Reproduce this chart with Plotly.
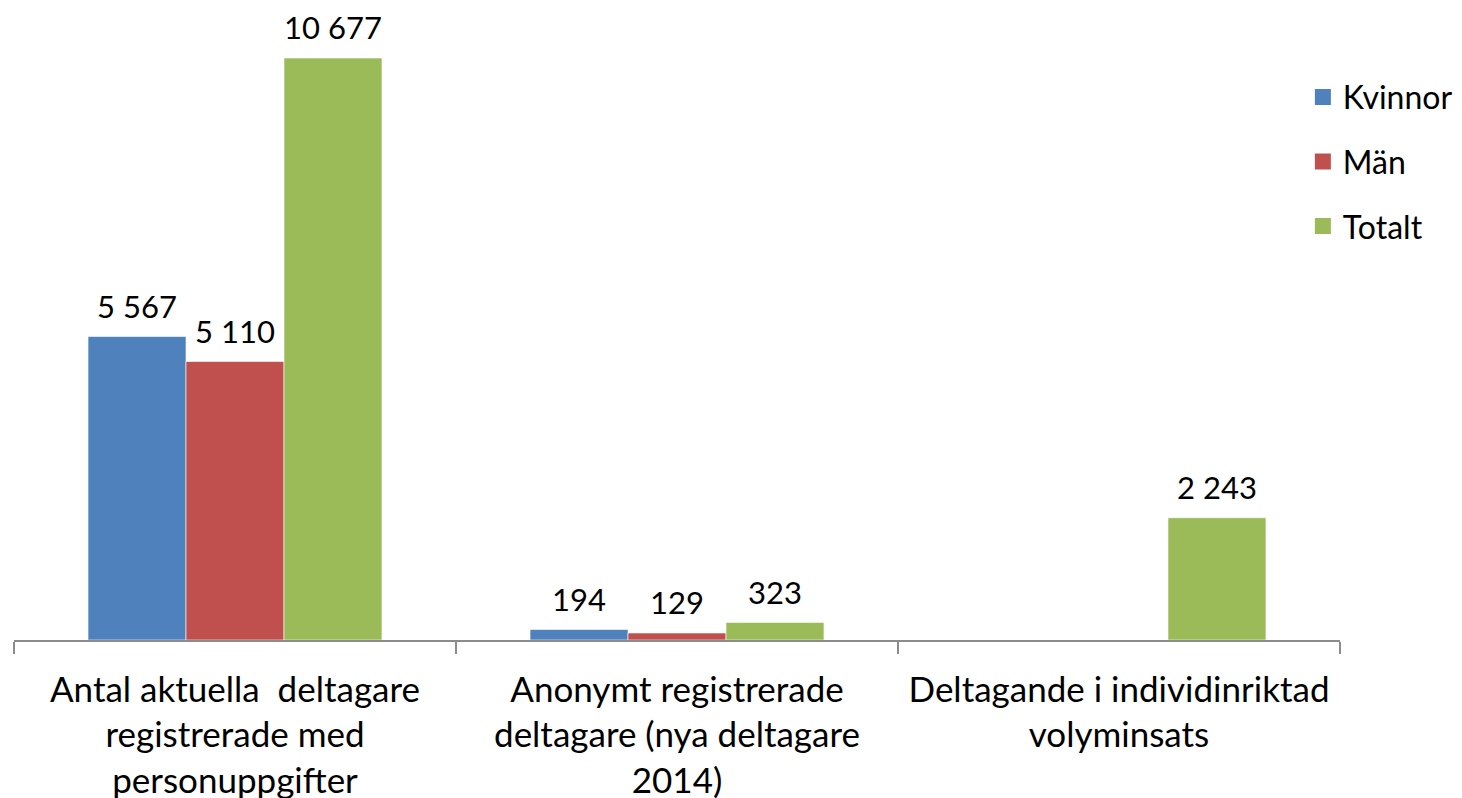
import plotly.graph_objects as go

categories = [
    "Antal aktuella  deltagare<br>registrerade med<br>personuppgifter",
    "Anonymt registrerade<br>deltagare (nya deltagare<br>2014)",
    "Deltagande i individinriktad<br>volyminsats",
]
kvinnor = [5567, 194, None]
man = [5110, 129, None]
totalt = [10677, 323, 2243]

series = [
    ("Kvinnor", kvinnor, "#4F81BD"),
    ("Män", man, "#C0504D"),
    ("Totalt", totalt, "#9BBB59"),
]

font = "Lato, 'Open Sans', sans-serif"

fig = go.Figure()
for name, vals, color in series:
    fig.add_trace(go.Bar(
        name=name, x=categories, y=vals, showlegend=False,
        marker=dict(color=color, line=dict(color="rgba(255,255,255,0.6)", width=1)),
        hoverinfo="y",
    ))
    # value labels, grouped like the bars, lifted a bit above them
    fig.add_trace(go.Scatter(
        x=categories, y=vals, mode="markers+text", showlegend=False,
        marker=dict(size=16, opacity=0),
        texttemplate="%{y:,}", textposition="top center",
        textfont=dict(size=31, color="black", family=font),
        cliponaxis=False, hoverinfo="skip",
    ))
    # legend entry with a bigger square swatch
    fig.add_trace(go.Scatter(
        name=name, x=[None], y=[None], mode="markers",
        marker=dict(symbol="square", size=20, color=color),
        xaxis="x2", yaxis="y2", legendgroup=name,
    ))

fig.update_layout(
    width=1462,
    height=798,
    barmode="group",
    bargap=0.335,
    bargroupgap=0,
    scattermode="group",
    scattergap=0.335,
    separators=", ",
    plot_bgcolor="white",
    paper_bgcolor="white",
    font=dict(family=font, size=35, color="black"),
    margin=dict(l=6, r=130, t=12, b=166, autoexpand=False),
    legend=dict(
        x=0.972, y=0.92, xanchor="left", yanchor="top",
        traceorder="grouped", tracegroupgap=20,
        font=dict(size=32, family=font),
        itemwidth=30,
    ),
    xaxis2=dict(overlaying="x", visible=False),
    yaxis2=dict(overlaying="y", visible=False),
)
fig.update_layout(xaxis=dict(
    showline=True, linecolor="#8C8C8C", linewidth=1.5,
    ticks="outside", tickson="boundaries", ticklen=12, tickcolor="#8C8C8C", tickwidth=1.5,
    tickfont=dict(size=35, family=font), automargin=False, ticklabelstandoff=18,
))
fig.update_layout(yaxis=dict(
    range=[0, 11374], visible=False, showgrid=False, zeroline=False, automargin=False,
))

fig.write_html("out.html")
